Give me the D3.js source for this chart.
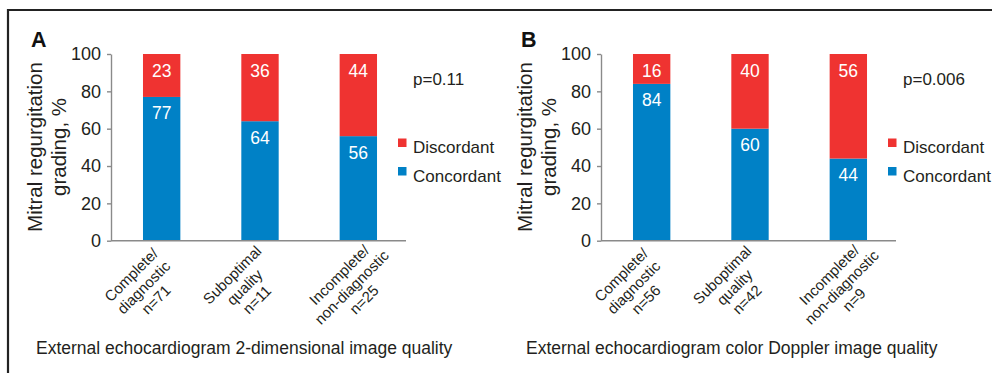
<!DOCTYPE html>
<html><head><meta charset="utf-8">
<script src="https://cdn.jsdelivr.net/npm/d3@7"></script>
<style>
html,body{margin:0;padding:0;background:#fff;}
svg{display:block;font-family:"Liberation Sans",Arial,sans-serif;}
</style></head>
<body>
<svg id="chart" width="992" height="373"></svg>
<script>
// ---- data ----
const seriesNames = ["Discordant", "Concordant"];
const categoriesA = [["Complete/", "diagnostic", "n=71"], ["Suboptimal", "quality", "n=11"], ["Incomplete/", "non-diagnostic", "n=25"]];
const concordantA = [77, 64, 56];
const discordantA = [23, 36, 44];
const categoriesB = [["Complete/", "diagnostic", "n=56"], ["Suboptimal", "quality", "n=42"], ["Incomplete/", "non-diagnostic", "n=9"]];
const concordantB = [84, 60, 44];
const discordantB = [16, 40, 56];
const yTicks = [0, 20, 40, 60, 80, 100];
const pValues = ["p=0.11", "p=0.006"];
const panelLetters = ["A", "B"];
const xTitles = ["External echocardiogram 2-dimensional image quality", "External echocardiogram color Doppler image quality"];
const yTitleLines = ["Mitral regurgitation", "grading, %"];

const RED = "#EF3331", BLUE = "#0081C6", TXT = "#231F20", AX = "#8a8a8a";
const svg = d3.select("#chart");

// border (top and left)
svg.append("line").attr("x1", 8).attr("x2", 992).attr("y1", 10).attr("y2", 10).attr("stroke", "#222").attr("stroke-width", 2.2);
svg.append("line").attr("x1", 8).attr("x2", 8).attr("y1", 9).attr("y2", 373).attr("stroke", "#222").attr("stroke-width", 2.2);

function panel(ox, letter, cats, conc, disc, pText, xTitle) {
  const g = svg.append("g").attr("transform", `translate(${ox},0)`);
  const y = d3.scaleLinear().domain([0, 100]).range([240.7, 54]);
  const x = d3.scaleBand().domain(cats.map((d, i) => i)).range([112.5, 407.5]).paddingInner(0.62).paddingOuter(0.31);

  // letter
  g.append("text").attr("x", 31).attr("y", 47).attr("font-size", 21.5).attr("font-weight", "bold").attr("fill", "#111").text(letter);

  // y title
  const yt = g.append("g").attr("transform", `translate(0,147)`);
  yTitleLines.forEach((t, i) => {
    yt.append("text").attr("transform", `translate(${42 + i * 24},0) rotate(-90)`)
      .attr("text-anchor", "middle").attr("font-size", 20.5).attr("fill", TXT).text(t);
  });

  // y axis
  const yAxis = d3.axisLeft(y).tickValues(yTicks).tickSize(4).tickPadding(6).tickSizeOuter(0);
  const ya = g.append("g").attr("transform", "translate(111,0)").call(yAxis);
  ya.select(".domain").attr("stroke", AX).attr("stroke-width", 1.4);
  ya.selectAll(".tick line").attr("stroke", AX).attr("stroke-width", 1.4);
  ya.selectAll(".tick text").attr("font-size", 18).attr("fill", TXT).attr("font-family", "Liberation Sans, Arial, sans-serif");

  // bars
  const stacked = cats.map((c, i) => ({ i, conc: conc[i], disc: disc[i] }));
  g.selectAll(".bc").data(stacked).join("rect").attr("x", d => x(d.i)).attr("width", x.bandwidth())
    .attr("y", d => y(d.conc)).attr("height", d => y(0) - y(d.conc)).attr("fill", BLUE);
  g.selectAll(".bd").data(stacked).join("rect").attr("x", d => x(d.i)).attr("width", x.bandwidth())
    .attr("y", d => y(d.conc + d.disc)).attr("height", d => y(d.conc) - y(d.conc + d.disc)).attr("fill", RED);
  // value labels
  g.selectAll(".ld").data(stacked).join("text").attr("x", d => x(d.i) + x.bandwidth() / 2)
    .attr("y", d => y(d.conc + d.disc) + 22.5).attr("text-anchor", "middle").attr("font-size", 17.5).attr("fill", "#fff").text(d => d.disc);
  g.selectAll(".lc").data(stacked).join("text").attr("x", d => x(d.i) + x.bandwidth() / 2)
    .attr("y", d => y(d.conc) + 22.5).attr("text-anchor", "middle").attr("font-size", 17.5).attr("fill", "#fff").text(d => d.conc);

  // x axis line
  g.append("line").attr("x1", 111).attr("x2", 406).attr("y1", y(0)).attr("y2", y(0)).attr("stroke", AX).attr("stroke-width", 1.4);

  // rotated category labels
  const fs = 15, lh = 17.5;
  cats.forEach((lines, i) => {
    const cx = x(i) + x.bandwidth() / 2;
    const lg = g.append("g");
    const texts = lines.map((t, k) => lg.append("text").attr("text-anchor", "middle").attr("font-size", fs).attr("fill", TXT)
      .attr("x", 0).attr("y", (k - 1) * lh + fs * 0.36).text(t));
    const W = d3.max(texts, t => t.node().getComputedTextLength());
    const mx = cx - 44.9 + 0.391 * W;
    const my = y(0) + 46.5;
    lg.attr("transform", `translate(${mx},${my}) rotate(-45)`);
  });

  // p value
  g.append("text").attr("x", 413).attr("y", 85).attr("font-size", 17).attr("fill", TXT).text(pText);

  // legend
  const colors = [RED, BLUE];
  seriesNames.forEach((s, k) => {
    g.append("rect").attr("x", 398).attr("y", 138.5 + k * 28.5).attr("width", 8.5).attr("height", 8.5).attr("fill", colors[k]);
    g.append("text").attr("x", 413).attr("y", 153 + k * 28.5).attr("font-size", 17).attr("fill", TXT).text(s);
  });

  // x title
  g.append("text").attr("x", 36).attr("y", 354).attr("font-size", 17.5).attr("fill", TXT).text(xTitle);
}

panel(0, panelLetters[0], categoriesA, concordantA, discordantA, pValues[0], xTitles[0]);
panel(490, panelLetters[1], categoriesB, concordantB, discordantB, pValues[1], xTitles[1]);
</script>
</body></html>
